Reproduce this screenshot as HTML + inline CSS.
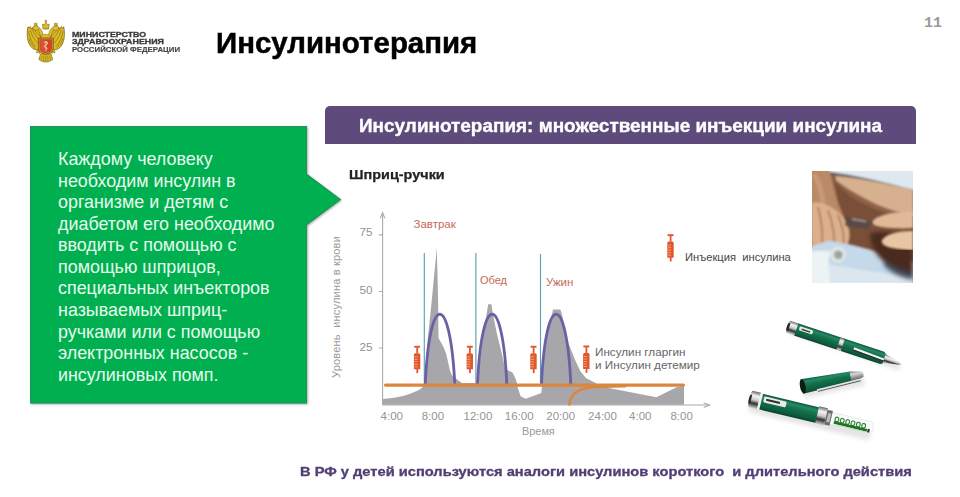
<!DOCTYPE html>
<html><head><meta charset="utf-8">
<style>
html,body{margin:0;padding:0;background:#fff;}
body{width:960px;height:497px;position:relative;overflow:hidden;font-family:"Liberation Sans",sans-serif;}
.a{position:absolute;white-space:nowrap;line-height:1;}
.sx{display:inline-block;transform-origin:0 0;}
#green{position:absolute;left:30px;top:126px;width:277px;height:277px;}
#greentxt{position:absolute;left:58px;top:0.9px;color:#e6fbec;font-size:17.9px;}
#greentxt div{position:absolute;left:0;white-space:nowrap;line-height:1;}
#bar{position:absolute;left:325px;top:106px;width:591px;height:37.5px;background:#5f4a7c;border-radius:5px 5px 0 0;}
</style></head>
<body>

<!-- emblem -->
<svg class="a" style="left:0;top:0" width="80" height="70" viewBox="0 0 80 70">
  <defs><filter id="eb" x="-5%" y="-5%" width="110%" height="110%"><feGaussianBlur stdDeviation="0.35"/></filter></defs>
  <g id="emb" filter="url(#eb)">
    <g id="half">
      <!-- wing -->
      <path d="M40.5 33 C39 30.5 37.5 29 35.5 28.2 L34 29.6 L33 27.4 L31.4 28.8 L30.4 26.6 L28.8 28.2 L28 26.8 C27.2 29.5 27 33.5 27.4 37.5 C27.9 41.5 29.3 45 31.6 47.4 C33.6 49.4 36.3 50.2 38.9 49.6 L41 45 Z" fill="#dcbb28" stroke="#776210" stroke-width="0.75"/>
      <path d="M28.6 31 C29.3 36.5 31.4 41.8 35.5 46.4 M30.4 29.8 C31.6 35 33.8 39.8 38 43.6 M32.6 29.6 C34 33.4 36.2 37 39.6 40 M28.8 38.5 C30 42.2 32.2 45.6 35 47.8 M34.8 30.2 C36.2 32.5 38 34.5 40.2 36.2" stroke="#7c6612" stroke-width="0.6" fill="none"/>
      <!-- neck -->
      <path d="M44.8 37.5 C43.4 35.5 42.6 33.5 42.2 31.5 C41.8 29.8 40.6 28.6 39.2 28.2 L37.4 29.4 C38.8 30.6 39.6 32.4 40 34.5 C40.4 36.2 41 37.6 41.8 38.5 Z" fill="#e0bf2c" stroke="#776210" stroke-width="0.5"/>
      <!-- head -->
      <path d="M36.2 30.4 C34.6 30.6 33.2 29.8 33 28.4 C32.8 26.8 34 25.6 35.6 25.6 C37.4 25.6 38.8 26.8 39.4 28.4 C38.6 29.6 37.6 30.2 36.2 30.4 Z" fill="#e0bf2c" stroke="#776210" stroke-width="0.55"/>
      <path d="M33.2 28.2 L31.2 28.9 L32.9 29.5 Z" fill="#8a7014"/>
      <path d="M34.4 25.8 L34.2 23.4 L35.1 24.1 L35.7 22.7 L36.3 24.1 L37.2 23.4 L37 25.8 Z" fill="#d9b828" stroke="#776210" stroke-width="0.45"/>
      <!-- leg/claw -->
      <path d="M39.8 47.6 C37.8 49 36.4 50.8 36.6 53 L38.6 52.2 L39.4 53.6 L41 51 Z" fill="#d6b428" stroke="#776210" stroke-width="0.5"/>
    </g>
    <use href="#half" transform="translate(91.6,0) scale(-1,1)"/>
    <!-- crown -->
    <path d="M42.9 28.4 L42.5 24 L44.1 25 L45.8 22.1 L47.5 25 L49.1 24 L48.7 28.4 Z" fill="#dcbb28" stroke="#776210" stroke-width="0.55"/>
    <circle cx="45.8" cy="21.1" r="1" fill="#d0ad26" stroke="#776210" stroke-width="0.4"/>
    <path d="M42.6 28.6 C43.8 29.6 47.8 29.6 49 28.6" stroke="#776210" stroke-width="0.5" fill="none"/>
    <!-- body behind shield -->
    <path d="M41.4 35.5 C43 33.8 48.6 33.8 50.2 35.5 L50.6 38.5 H41 Z" fill="#dcbb28" stroke="#776210" stroke-width="0.4"/>
    <!-- tail -->
    <path d="M40.6 54 L51 54 L52.8 59.4 C50.4 61.4 47.8 62 45.8 62 C43.8 62 41.2 61.4 38.8 59.4 Z" fill="#dcbb28" stroke="#776210" stroke-width="0.6"/>
    <path d="M42 55.6 L41.2 60 M43.9 55.6 L43.6 61.3 M45.8 55.6 V61.7 M47.7 55.6 L48 61.3 M49.6 55.6 L50.4 60" stroke="#776210" stroke-width="0.5"/>
    <!-- shield -->
    <path d="M38.2 38 H53.4 L53.2 48.8 C53 52.2 50.5 53.8 45.8 54.2 C41.1 53.8 38.6 52.2 38.4 48.8 Z" fill="#c39f22" stroke="#655010" stroke-width="0.7"/>
    <path d="M39.5 39.3 H52.1 L51.9 48.7 C51.7 51.2 49.6 52.6 45.8 52.9 C42 52.6 39.9 51.2 39.7 48.7 Z" fill="#d5432c"/>
    <path d="M40.4 40 H45 L44 52.2 C42 51.7 40.5 50.6 40.4 48.5 Z" fill="#e25d3e" opacity="0.55"/>
    <!-- staff & snake -->
    <path d="M45.9 41 V51.6" stroke="#f3dfae" stroke-width="0.8"/>
    <path d="M44 43 C44 41.5 47.8 41.5 47.8 43 C47.8 44.5 44.2 44.8 44.2 46.4 C44.2 47.8 47.6 47.8 47.6 49.2" stroke="#f5e3b5" stroke-width="0.9" fill="none"/>
  </g>
</svg>

<!-- ministry text -->
<div class="a" style="left:71.5px;top:30.7px;font-size:7px;font-weight:bold;color:#3a3a3a;-webkit-text-stroke:0.3px #3a3a3a;"><span class="sx" style="transform:scaleX(1.26)">МИНИСТЕРСТВО</span></div>
<div class="a" style="left:71.5px;top:38.3px;font-size:7px;font-weight:bold;color:#3a3a3a;-webkit-text-stroke:0.3px #3a3a3a;"><span class="sx" style="transform:scaleX(1.267)">ЗДРАВООХРАНЕНИЯ</span></div>
<div class="a" style="left:71.5px;top:45.9px;font-size:7px;font-weight:bold;color:#474747;-webkit-text-stroke:0.15px #474747;"><span class="sx" style="transform:scaleX(1.119)">РОССИЙСКОЙ ФЕДЕРАЦИИ</span></div>

<!-- title -->
<div class="a" style="left:216.2px;top:28.9px;font-size:29px;font-weight:bold;color:#000;-webkit-text-stroke:0.5px #000;"><span class="sx" style="transform:scaleX(1.015)">Инсулинотерапия</span></div>

<!-- page number -->
<div class="a" style="left:924px;top:16.1px;font-size:15px;font-weight:bold;color:#999;font-family:'Liberation Mono',monospace;">11</div>

<!-- green callout -->
<svg class="a" style="left:0;top:0;" width="360" height="420">
  <defs><filter id="sh" x="-10%" y="-10%" width="130%" height="130%"><feGaussianBlur in="SourceAlpha" stdDeviation="1.6"/><feOffset dx="1.5" dy="1.5"/><feComponentTransfer><feFuncA type="linear" slope="0.45"/></feComponentTransfer><feMerge><feMergeNode/><feMergeNode in="SourceGraphic"/></feMerge></filter></defs>
  <path d="M30 126 H307 V174 L341 199.5 L307 225 V403.4 H30 Z" fill="#00b050" style="filter:drop-shadow(1.4px 1.6px 1.3px rgba(0,0,0,0.33))"/>
  <path d="M30.6 126.6 H306.4 V174.2 L340.2 199.5 L306.4 224.8 V402.8 H30.6 Z" fill="none" stroke="#23915a" stroke-width="1.1" opacity="0.85"/>
</svg>
<div id="greentxt" class="a">
<div style="top:150.1px">Каждому человеку</div>
<div style="top:171.7px">необходим инсулин в</div>
<div style="top:193.3px">организме и детям с</div>
<div style="top:214.8px">диабетом его необходимо</div>
<div style="top:236.4px">вводить с помощью с</div>
<div style="top:258.0px">помощью шприцов,</div>
<div style="top:279.5px">специальных инъекторов</div>
<div style="top:301.1px">называемых шприц-</div>
<div style="top:322.7px">ручками или с помощью</div>
<div style="top:344.2px">электронных насосов -</div>
<div style="top:365.8px">инсулиновых помп.</div>
</div>

<!-- purple bar -->
<div id="bar"></div>
<div class="a" style="left:358.5px;top:117.9px;font-size:17.5px;font-weight:bold;color:#fff;-webkit-text-stroke:0.35px #fff;"><span class="sx" style="transform:scaleX(1.082)">Инсулинотерапия: множественные инъекции инсулина</span></div>

<!-- Шприц-ручки -->
<div class="a" style="left:349px;top:167.9px;font-size:13.4px;font-weight:bold;color:#222;-webkit-text-stroke:0.25px #222;"><span class="sx" style="transform:scaleX(1.078)">Шприц-ручки</span></div>

<!-- chart -->
<svg class="a" style="left:0;top:0;" width="960" height="497">
  <!-- gray area -->
  <path fill="#a7a7ab" d="M383 398.9 C395 398 405 396 412 393 C417 391 420.5 389.5 422.5 387.2 L424.5 383 L427.2 345 L431.8 300 L436.8 248 L438.1 300 L438.5 338 L443.5 347 L446.3 354.3 L450 370.7 L451.9 375 L456.3 378.8 L461.9 383.1 L477.3 383 L478.6 371.5 L483.4 333.2 L488.2 304.2 L491.4 304.2 L492.6 312.2 L496.8 333.2 L500.6 348.5 L505.4 369.6 L507.5 370 L512.5 372.5 L515.6 378.8 L516.9 383 L517.5 387 L520.6 396.3 L525.6 398.8 L541.3 393.1 L541.9 387 L542.5 383 L542.7 368 L547.2 333.7 L553.1 309.4 L560.4 309.4 L562.7 317 L566 337 L574.8 359.2 L580.4 371.3 L585.9 378 L594.7 382.4 L600 386 L610 388.3 L656.4 397.3 L676.5 387.3 L684 386 L684 404.8 L383 404.8 Z"/>
  <!-- axes -->
  <g stroke="#a9a9a9" stroke-width="1.1" fill="none">
    <path d="M382.6 405 V213"/>
    <path d="M380.2 218.4 L382.6 212.6 L384.9 218.4"/>
    <path d="M382.6 405 H709"/>
    <path d="M703.7 403 L709.6 405.1 L703.7 407.4"/>
    <path d="M379 234.9 H382.6 M379 291.5 H382.6 M379 348 H382.6"/>
  </g>
  <!-- blue lines -->
  <g stroke="#5b9fb8" stroke-width="1.15">
    <path d="M424.3 253 V383"/>
    <path d="M475.9 253 V383"/>
    <path d="M540.5 254 V383"/>
  </g>
  <!-- purple curves -->
  <g stroke="#6d5fa4" stroke-width="2.8" fill="none">
    <path d="M425.3 384 C429.5 291 450 291 454.8 384"/>
    <path d="M477.5 384 C481.7 291 502.6 291 506.8 384"/>
    <path d="M541.5 384 C545.7 291 566.6 291 570.8 384"/>
  </g>
  <!-- orange -->
  <g stroke="#db863d" fill="none" stroke-linecap="round">
    <path d="M385.5 385.1 H683.5" stroke-width="3.2"/>
    <path d="M569.3 404.5 C570.5 393 578 387.6 600 386.8 L625 386.3" stroke-width="2.4"/>
  </g>
  <!-- syringes -->
  <defs>
    <g id="syr">
      <rect x="0.3" y="0" width="5.9" height="1.9" fill="#e0582a"/>
      <rect x="2.4" y="1.5" width="1.8" height="6" fill="#e0582a"/>
      <path d="M0 8.6 L1 7.4 H5.4 L6.4 8.6 V23.5 H0 Z" fill="#e0582a"/>
      <rect x="2.5" y="23" width="1.8" height="4.3" fill="#e0582a"/>
      <g stroke="#f3a888" stroke-width="0.9"><path d="M0.5 11 H3.8 M0.5 13.5 H3.8 M0.5 16 H3.8 M0.5 18.5 H3.8 M0.5 21 H3.8"/></g>
    </g>
  </defs>
  <use href="#syr" x="413.9" y="345.8"/>
  <use href="#syr" x="466.6" y="345.8"/>
  <use href="#syr" x="530.3" y="345.8"/>
  <use href="#syr" x="583.1" y="345.5"/>
  <use href="#syr" x="667.3" y="234.2"/>
</svg>
<!-- chart text -->
<div class="a" style="left:356px;top:226.3px;font-size:11.7px;color:#929292;width:16.5px;text-align:right">75</div>
<div class="a" style="left:356px;top:283.6px;font-size:11.7px;color:#929292;width:16.5px;text-align:right">50</div>
<div class="a" style="left:356px;top:340.5px;font-size:11.7px;color:#929292;width:16.5px;text-align:right">25</div>
<div class="a" style="left:331.2px;top:377.5px;font-size:11px;letter-spacing:0.19px;color:#9a9a9a;transform-origin:0 0;transform:rotate(-90deg);">Уровень&nbsp; инсулина в крови</div>
<div class="a" style="left:413.5px;top:219.4px;font-size:11.5px;color:#c46a56;">Завтрак</div>
<div class="a" style="left:480px;top:275.3px;font-size:11px;color:#c46a56;">Обед</div>
<div class="a" style="left:546px;top:277.3px;font-size:11.5px;color:#c46a56;">Ужин</div>
<div class="a" style="left:685px;top:251.8px;font-size:11.2px;color:#474747;">Инъекция&nbsp; инсулина</div>
<div class="a" style="left:595px;top:346.3px;font-size:11.7px;color:#666;">Инсулин гларгин</div>
<div class="a" style="left:595px;top:359.3px;font-size:11.7px;color:#666;">и Инсулин детемир</div>
<div id="xl" style="position:absolute;left:0;top:410.8px;font-size:11.5px;color:#959595;line-height:1">
  <div class="a" style="left:371.8px;width:40px;text-align:center">4:00</div>
  <div class="a" style="left:412.9px;width:40px;text-align:center">8:00</div>
  <div class="a" style="left:457.9px;width:40px;text-align:center">12:00</div>
  <div class="a" style="left:499.2px;width:40px;text-align:center">16:00</div>
  <div class="a" style="left:540.7px;width:40px;text-align:center">20:00</div>
  <div class="a" style="left:582.5px;width:40px;text-align:center">24:00</div>
  <div class="a" style="left:620.3px;width:40px;text-align:center">4:00</div>
  <div class="a" style="left:661.6px;width:40px;text-align:center">8:00</div>
</div>
<div class="a" style="left:522px;top:426.4px;font-size:10.9px;color:#9a9a9a;">Время</div>

<!-- photo -->
<svg class="a" style="left:812px;top:171px;" width="101" height="112" viewBox="812 171 101 112">
  <defs>
    <filter id="pb" x="0" y="0" width="100%" height="100%"><feGaussianBlur stdDeviation="1.1"/></filter>
    <filter id="pb2" x="-20%" y="-20%" width="140%" height="140%"><feGaussianBlur stdDeviation="2.2"/></filter>
    <clipPath id="pc"><rect x="812" y="171" width="101" height="112"/></clipPath>
  </defs>
  <g clip-path="url(#pc)">
  <rect x="805" y="165" width="115" height="125" fill="#8f6248"/>
  <g filter="url(#pb)">
    <rect x="805" y="165" width="115" height="125" fill="#8f6248"/>
    <!-- darker torso centre -->
    <path d="M834 180 C846 196 866 208 913 222 L913 250 L850 248 L842 222 Z" fill="#7a5038"/>
    <!-- shirt -->
    <path d="M822 165 H920 V191 C900 187 880 181 860 177 C848 175 838 174 828 172.5 Z" fill="#dde8f1"/>
    <path d="M824 172 C840 174 860 177.5 880 182.5 C895 186 905 189 913 191.5" stroke="#5a5560" stroke-width="1.8" fill="none"/>
    <!-- upper right light skin -->
    <path d="M836 176 C860 178 885 183 913 190 L913 216 C897 212 880 207 866 199 C853 192 843 186 836 180 Z" fill="#d6b08f"/>
    <!-- left arm -->
    <path d="M805 165 H828 C831 176 834 190 838 203 C842 213 846 220 845 230 L805 240 Z" fill="#b98a66"/>
    <path d="M814 174 C819 182 822 192 823 205" stroke="#c99a74" stroke-width="5" fill="none"/>
    <!-- left fingers -->
    <path d="M812 203 C821 201 831 206 839 213 C847 220 852 232 848 243 C845 249 836 251 826 250 L812 251 Z" fill="#dcb08c"/>
    <path d="M818 207 C822 221 823 236 822 250 M828 210 C833 224 835 238 834 249 M838 215 C843 227 845 238 843 247" stroke="#9a6a4a" stroke-width="1.3" fill="none"/>
    <!-- pen -->
    <path d="M846 217 L870 221 L869 229 L845 226 Z" fill="#5a4a48"/>
    <path d="M852 219 L866 221.5" stroke="#c9bdb8" stroke-width="1.2"/>
    <!-- right fingers -->
    
    <!-- jeans -->
    <path d="M830 241 C850 244 870 250 895 257 C905 260 910 261 913 262 V290 H805 V249 C815 246 822 242 830 241 Z" fill="#c5d9ea"/>
    <path d="M826 264 C855 268 890 275 913 278 V290 H826 Z" fill="#dbe6ef"/>
    <path d="M805 251 H830 C828 262 828 275 832 290 H805 Z" fill="#edf2f5"/>
    <!-- button -->
    <circle cx="838" cy="254.5" r="7.8" fill="#e4e8e6"/>
    <circle cx="838.3" cy="254.8" r="4.9" fill="#b2bab6"/>
    <circle cx="836.8" cy="253.4" r="0.9" fill="#5d6460"/><circle cx="839.8" cy="253.4" r="0.9" fill="#5d6460"/><circle cx="836.8" cy="256.4" r="0.9" fill="#5d6460"/><circle cx="839.8" cy="256.4" r="0.9" fill="#5d6460"/>
  </g>
  <g filter="url(#pb2)">
    <path d="M870 234 C880 230 895 232 913 240 V276 C902 274 890 268 882 260 C875 253 870 244 870 234 Z" fill="#4a2a1c"/>
    <path d="M884 260 C895 266 905 270 913 272 V280 C900 278 890 272 884 266 Z" fill="#38404c" opacity="0.8"/>
  </g>
  <g filter="url(#pb)">
    <path d="M873 221 C876 216 890 212 913 211 V228 C900 229 885 228 877 226 C873 225 872 223 873 221 Z" fill="#e0ba98"/>
    <path d="M882 240 C886 234 898 231 913 231 V250 C905 250 895 249 888 247 C883 245 881 243 882 240 Z" fill="#e8c6a4"/>
  </g>
  </g>
</svg>

<!-- pens -->
<svg class="a" style="left:0;top:0;" width="960" height="497">
  <defs>
    <linearGradient id="gg" x1="0" y1="0" x2="0" y2="1">
      <stop offset="0" stop-color="#0b5538"/>
      <stop offset="0.2" stop-color="#268a66"/>
      <stop offset="0.45" stop-color="#14704a"/>
      <stop offset="0.8" stop-color="#0e5e3e"/>
      <stop offset="1" stop-color="#08432d"/>
    </linearGradient>
    <linearGradient id="cr2" x1="0" y1="0" x2="0" y2="1">
      <stop offset="0" stop-color="#777"/>
      <stop offset="0.3" stop-color="#d8d8d8"/>
      <stop offset="0.6" stop-color="#9a9a9a"/>
      <stop offset="1" stop-color="#4a4a4a"/>
    </linearGradient>
    <linearGradient id="cr" x1="0" y1="0" x2="0" y2="1">
      <stop offset="0" stop-color="#6a6a6a"/>
      <stop offset="0.25" stop-color="#f4f4f4"/>
      <stop offset="0.5" stop-color="#c8c8c8"/>
      <stop offset="0.7" stop-color="#2f2f2f"/>
      <stop offset="1" stop-color="#e0e0e0"/>
    </linearGradient>
    <filter id="psh" x="-20%" y="-50%" width="140%" height="200%"><feGaussianBlur stdDeviation="2"/></filter>
    <filter id="pbl" x="-5%" y="-20%" width="110%" height="140%"><feGaussianBlur stdDeviation="0.45"/></filter>
  </defs>
  <!-- shadows -->
  <g fill="#000" opacity="0.10" filter="url(#psh)">
    <path transform="translate(789 331) rotate(18.3)" d="M0 -4 H115 L118 3 H0 Z"/>
    <path transform="translate(803 392) rotate(-11.3)" d="M0 -5 H62 V6 H0 Z"/>
    <path transform="translate(750 405) rotate(13.4)" d="M0 -6 H124 V7 H0 Z"/>
  </g>
  <g filter="url(#pbl)">
  <!-- pen 1 -->
  <g transform="translate(787.3 326.5) rotate(18.3)">
    <path d="M9 -6.4 H100 L103 -4.4 V4.4 L100 6.4 H9 Z" fill="url(#gg)"/>
    <path d="M1 -6.4 H9.5 V6.4 H1 C-0.5 4 -0.5 -4 1 -6.4 Z" fill="url(#cr)"/>
    <path d="M0.3 -4 C-0.6 -1 -0.6 1 0.3 4 L2 4 V-4 Z" fill="#222"/>
    <rect x="12" y="-4.2" width="14" height="4" rx="1" fill="#e8eeea"/>
    <rect x="14.5" y="-2.6" width="9" height="1.4" fill="#3a3a3a"/>
    <rect x="54" y="-6.4" width="4.5" height="12.8" fill="url(#cr)"/>
    <path d="M70 -1.2 L104 0.2 L104 2.2 L70 1 Z" fill="#f2f2f2"/>
    <path d="M70 1 L104 2.2 L104 3.4 L70 2.3 Z" fill="#2e2e2e"/>
    <path d="M102 -4.4 L118.5 -1 L120 0 L118.5 1 L102 4.4 Z" fill="url(#cr)"/>
  </g>
  <!-- pen 2 (cap) -->
  <g transform="translate(802 386.5) rotate(-11.3)">
    <path d="M0 -7.3 L50 -5.2 V5.2 L0 7.3 Z" fill="url(#gg)"/>
    <ellipse cx="0.8" cy="0" rx="2.8" ry="7.2" fill="#0b1a14"/>
    <path d="M49.5 -5.4 L60 -3.2 L62.5 -2.2 V2.2 L60 3.2 L49.5 5.4 Z" fill="url(#cr2)"/>
    <path d="M14 5.6 L58 3.6 L58.5 5.4 L14.5 7.6 Z" fill="#e4e4e4"/>
    <path d="M14.5 7.6 L58.5 5.4 L58.5 6.3 L15 8.4 Z" fill="#555"/>
  </g>
  <!-- pen 3 -->
  <g transform="translate(749 398.8) rotate(13.4)">
    <path d="M84 -6 H124 C126.5 -6 127.5 -3 127.5 0 C127.5 3 126.5 6 124 6 H84 Z" fill="#fafcfb" stroke="#e2e7e4" stroke-width="0.8"/>
    <g fill="#e9f6e8" stroke="#2d7d36" stroke-width="1.1"><rect x="88.5" y="-2.6" width="3.6" height="4.6" rx="1.6"/><rect x="94" y="-2.6" width="3.6" height="4.6" rx="1.6"/><rect x="99.5" y="-2.6" width="3.6" height="4.6" rx="1.6"/><rect x="105" y="-2.6" width="3.6" height="4.6" rx="1.6"/><rect x="110.5" y="-2.6" width="3.6" height="4.6" rx="1.6"/><rect x="116" y="-2.6" width="3.6" height="4.6" rx="1.6"/></g>
    <path d="M88 3.3 H122" stroke="#236e2c" stroke-width="2.8"/>
    <path d="M89 5.2 H121" stroke="#b9e6b4" stroke-width="1"/>
    <rect x="122.5" y="1.5" width="2.2" height="3.6" fill="#333"/>
    <path d="M12 -8 H73 V8 H12 Z" fill="url(#gg)"/>
    <path d="M1.5 -8.6 H10.5 V8.6 H1.5 C-0.5 5 -0.5 -5 1.5 -8.6 Z" fill="url(#cr)"/>
    <path d="M0.6 -4.5 C-0.4 -1.5 -0.4 1.5 0.6 4.5 L2.2 4.5 V-4.5 Z" fill="#2a2a2a"/>
    <rect x="10" y="-8" width="2.5" height="16" fill="#eef3ef"/>
    <rect x="14.5" y="-6" width="23" height="6" rx="1.2" fill="#e6ece8"/>
    <rect x="17" y="-4" width="14" height="2" fill="#2e2e2e"/>
    <rect x="70" y="-9" width="9" height="18" fill="url(#cr)"/>
    <rect x="79" y="-7.5" width="5.5" height="15" fill="#6c6c6c"/>
    <rect x="80.5" y="-4.5" width="3" height="9" fill="#bdbdbd"/>
  </g>
  </g>
</svg>

<!-- bottom text -->
<div class="a" style="left:300px;top:465.9px;font-size:12.2px;font-weight:bold;color:#503f74;-webkit-text-stroke:0.3px #503f74;"><span class="sx" style="transform:scaleX(1.203)">В РФ у детей используются аналоги инсулинов короткого&nbsp; и длительного действия</span></div>

</body></html>
